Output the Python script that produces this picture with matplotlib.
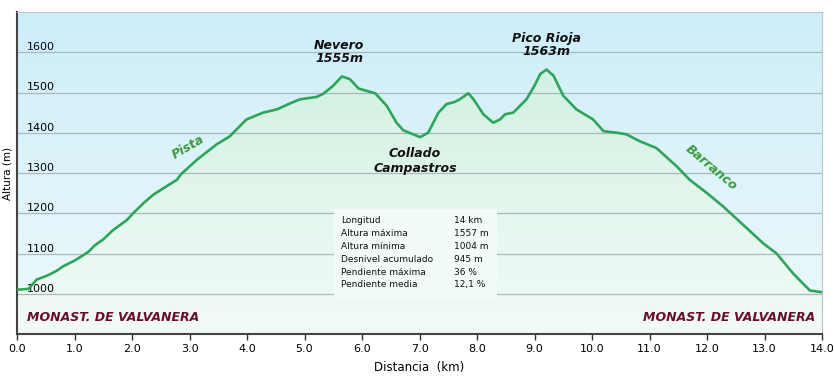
import matplotlib
matplotlib.use('Agg')
import matplotlib.pyplot as plt
from matplotlib.colors import LinearSegmentedColormap
import numpy as np

# profile
dist_km = [0.0, 0.2, 0.34, 0.54, 0.69, 0.8, 1.01, 1.24, 1.36, 1.5, 1.67, 1.91, 2.02, 2.2,
           2.37, 2.6, 2.78, 2.86, 3.13, 3.47, 3.7, 3.99, 4.28, 4.52, 4.75, 4.92, 5.21,
           5.33, 5.5, 5.65, 5.79, 5.94, 6.08, 6.23, 6.43, 6.6, 6.72, 6.89, 7.01, 7.15,
           7.33, 7.47, 7.62, 7.7, 7.85, 7.94, 8.11, 8.28, 8.4, 8.49, 8.63, 8.86, 9.0,
           9.1, 9.21, 9.33, 9.5, 9.73, 10.02, 10.2, 10.43, 10.6, 10.83, 11.12, 11.47,
           11.7, 12.0, 12.28, 12.57, 12.98, 13.21, 13.5, 13.79, 13.99]
altura_m = [1010, 1012, 1035, 1046, 1057, 1068, 1083, 1104, 1121, 1135, 1158, 1183, 1200, 1225,
            1246, 1267, 1283, 1298, 1333, 1371, 1391, 1433, 1450, 1458, 1473, 1483, 1489,
            1497, 1517, 1540, 1533, 1510, 1504, 1498, 1467, 1425, 1406, 1396, 1389, 1400,
            1450, 1471, 1477, 1483, 1498, 1483, 1446, 1425, 1433, 1446, 1450, 1483, 1517,
            1546, 1557, 1542, 1492, 1458, 1433, 1404, 1400, 1396, 1379, 1362, 1317,
            1283, 1250, 1217, 1179, 1125, 1100, 1050, 1008, 1004]

x_ticks = [0, 1, 2, 3, 4, 5, 6, 7, 8, 9, 10, 11, 12, 13, 14]
y_ticks = [1000, 1100, 1200, 1300, 1400, 1500, 1600]

info_labels = ['Longitud', 'Altura máxima', 'Altura mínima', 'Desnivel acumulado',
               'Pendiente máxima', 'Pendiente media']
info_values = ['14 km', '1557 m', '1004 m', '945 m', '36 %', '12,1 %']

fig = plt.figure(figsize=(8.34, 3.77), dpi=100)
ax = fig.add_axes([17 / 834, 1 - 334 / 377, (822 - 17) / 834, (334 - 12) / 377])
ax.set_xlim(0, 14)
ax.set_ylim(900, 1700)

# sky gradient
sky = LinearSegmentedColormap.from_list('sky', ['#eef9fb', '#cdeef9'])
ax.imshow(np.linspace(0, 1, 256).reshape(-1, 1), cmap=sky, origin='lower',
          extent=[0, 14, 900, 1700], aspect='auto', zorder=0)

# green fill under the profile
fill = ax.fill_between(dist_km, altura_m, 900, color='none', lw=0)
grass = LinearSegmentedColormap.from_list('grass', ['#f3fbf7', '#d2f1e2'])
img = ax.imshow(np.linspace(0, 1, 256).reshape(-1, 1), cmap=grass, origin='lower',
                extent=[0, 14, 900, 1560], aspect='auto', zorder=1)
img.set_clip_path(fill.get_paths()[0], transform=ax.transData)

for y in y_ticks:
    ax.axhline(y, color='#a9b9bd', lw=0.9, zorder=2)

ax.plot(dist_km, altura_m, color='#2ea55a', lw=1.9, zorder=4)

ax.set_xticks(x_ticks)
ax.set_xticklabels([f'{v:.1f}' for v in x_ticks], fontsize=8)
ax.set_yticks(y_ticks)
ax.set_yticklabels([str(v) for v in y_ticks], fontsize=8, ha='left', va='bottom')
ax.tick_params(axis='x', length=4, width=1, color='#333333', pad=3)
ax.tick_params(axis='y', length=0, pad=-7)
for lab in ax.get_yticklabels():
    lab.set_zorder(5)

for side in ['top', 'right']:
    ax.spines[side].set_color('#b9c6c9')
for side in ['left', 'bottom']:
    ax.spines[side].set_color('#444444')
    ax.spines[side].set_linewidth(1.5)

ax.set_xlabel('Distancia  (km)', fontsize=8.5, labelpad=5)
ax.set_ylabel('Altura (m)', fontsize=7.5, labelpad=2)
ax.yaxis.set_label_coords(-0.005, 0.5)

# peak names
bold = dict(fontsize=9, fontweight='bold', fontstyle='italic', ha='center', color='#111111', zorder=6)
ax.text(5.6, 1600, 'Nevero\n1555m', va='center', linespacing=1.0, **bold)
ax.text(9.2, 1618, 'Pico Rioja\n1563m', va='center', linespacing=1.0, **bold)
ax.text(6.92, 1330, 'Collado\nCampastros', va='center', linespacing=1.15, **bold)

trail = dict(fontsize=9, fontweight='bold', fontstyle='italic', color='#3a9a3e', ha='center', va='center', zorder=6)
ax.text(2.97, 1365, 'Pista', rotation=30, **trail)
ax.text(12.08, 1313, 'Barranco', rotation=-40, **trail)

place = dict(fontsize=9, fontweight='bold', fontstyle='italic', color='#6a0c2c', va='center', zorder=6)
ax.text(0.17, 942, 'MONAST. DE VALVANERA', ha='left', **place)
ax.text(13.88, 942, 'MONAST. DE VALVANERA', ha='right', **place)

# stats box
ax.fill_between([5.51, 8.35], 990, 1210, color='#f1fbfa', zorder=3, lw=0)
for i, (lab, val) in enumerate(zip(info_labels, info_values)):
    y = 1182 - i * 32
    ax.text(5.63, y, lab, fontsize=6.5, va='center', ha='left', color='#111111', zorder=6)
    ax.text(7.6, y, val, fontsize=6.5, va='center', ha='left', color='#111111', zorder=6)

fig.savefig('out.png', dpi=100)
